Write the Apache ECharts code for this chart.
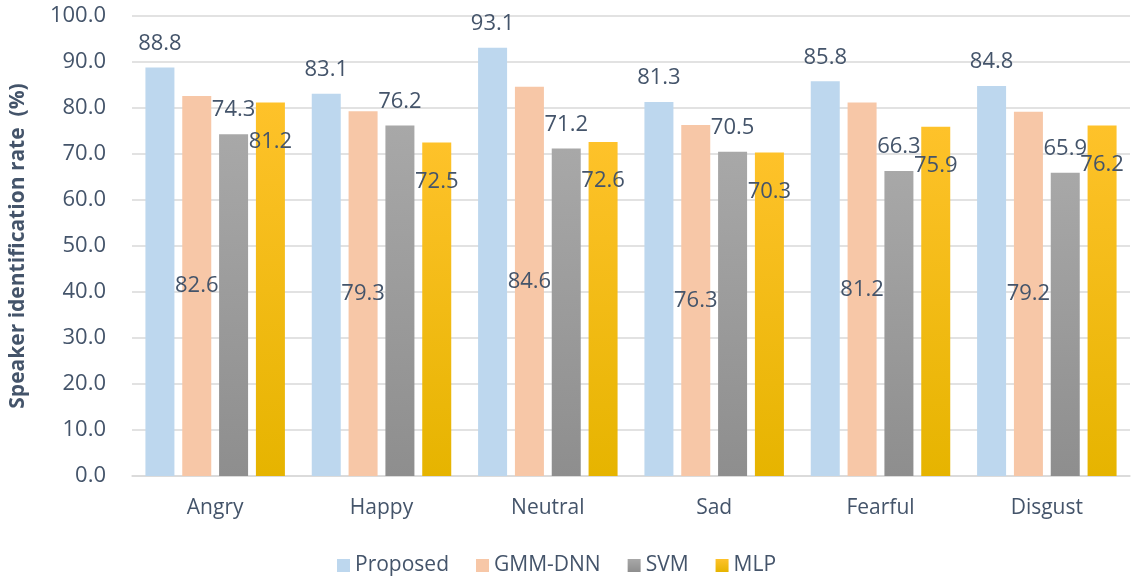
<!DOCTYPE html>
<html>
<head>
<meta charset="utf-8">
<script src="https://cdn.jsdelivr.net/npm/echarts@6/dist/echarts.min.js"></script>
<style>
  html, body { margin: 0; padding: 0; background: #fff; }
  #chart { width: 1133px; height: 585px; }
</style>
</head>
<body>
<div id="chart"></div>
<script>
const emotions = ['Angry', 'Happy', 'Neutral', 'Sad', 'Fearful', 'Disgust']
const proposed = [88.8, 83.1, 93.1, 81.3, 85.8, 84.8]
const gmmDnn = [82.6, 79.3, 84.6, 76.3, 81.2, 79.2]
const svm = [74.3, 76.2, 71.2, 70.5, 66.3, 65.9]
const mlp = [81.2, 72.5, 72.6, 70.3, 75.9, 76.2]

const textColor = '#44546a'
const font = 'Open Sans'

function vgrad(top, bottom) {
  return new echarts.graphic.LinearGradient(0, 0, 0, 1, [
    { offset: 0, color: top },
    { offset: 1, color: bottom }
  ])
}

const labelBase = {
  show: true,
  color: textColor,
  fontFamily: font,
  fontSize: 22,
  formatter: p => p.value.toFixed(1)
}

const chart = echarts.init(document.getElementById('chart'))

const option = {
  animation: false,
  textStyle: { fontFamily: font },
  grid: { left: 128, right: 3, top: 16, bottom: 109, containLabel: false },
  legend: {
    bottom: 4,
    left: 332,
    itemWidth: 13,
    itemHeight: 13,
    itemGap: 27,
    icon: 'rect',
    textStyle: { color: textColor, fontFamily: font, fontSize: 21 },
    data: ['Proposed', 'GMM-DNN', 'SVM', 'MLP']
  },
  xAxis: {
    type: 'category',
    data: emotions,
    axisTick: { show: false },
    axisLine: { lineStyle: { color: '#d9d9d9', width: 1.5 } },
    axisLabel: { color: textColor, fontFamily: font, fontSize: 21, margin: 22 }
  },
  yAxis: {
    type: 'value',
    min: 0,
    max: 100,
    interval: 10,
    name: 'Speaker identification rate  (%)',
    nameLocation: 'middle',
    nameGap: 103,
    nameTextStyle: { color: textColor, fontFamily: font, fontSize: 21, fontWeight: 'bold' },
    axisLabel: { color: textColor, fontFamily: font, fontSize: 22, margin: 26, formatter: v => v.toFixed(1) },
    splitLine: { lineStyle: { color: '#d9d9d9', width: 1.5 } }
  },
  series: [
    {
      name: 'Proposed',
      type: 'bar',
      data: proposed,
      barWidth: 29,
      barGap: '27%',
      itemStyle: { color: '#bdd7ee' },
      label: Object.assign({}, labelBase, { position: 'top', distance: 13 })
    },
    {
      name: 'GMM-DNN',
      type: 'bar',
      data: gmmDnn,
      barWidth: 29,
      barGap: '27%',
      itemStyle: { color: '#f7c7a7' },
      label: Object.assign({}, labelBase, { position: 'inside' })
    },
    {
      name: 'SVM',
      type: 'bar',
      data: svm,
      barWidth: 29,
      barGap: '27%',
      itemStyle: { color: vgrad('#a8a8a8', '#8e8e8e') },
      label: Object.assign({}, labelBase, { position: 'top', distance: 13 })
    },
    {
      name: 'MLP',
      type: 'bar',
      data: mlp,
      barWidth: 29,
      barGap: '27%',
      itemStyle: { color: vgrad('#fec22a', '#e6b400') },
      label: Object.assign({}, labelBase, { position: 'insideTop', distance: 28 })
    }
  ]
}

chart.setOption(option)
</script>
</body>
</html>
